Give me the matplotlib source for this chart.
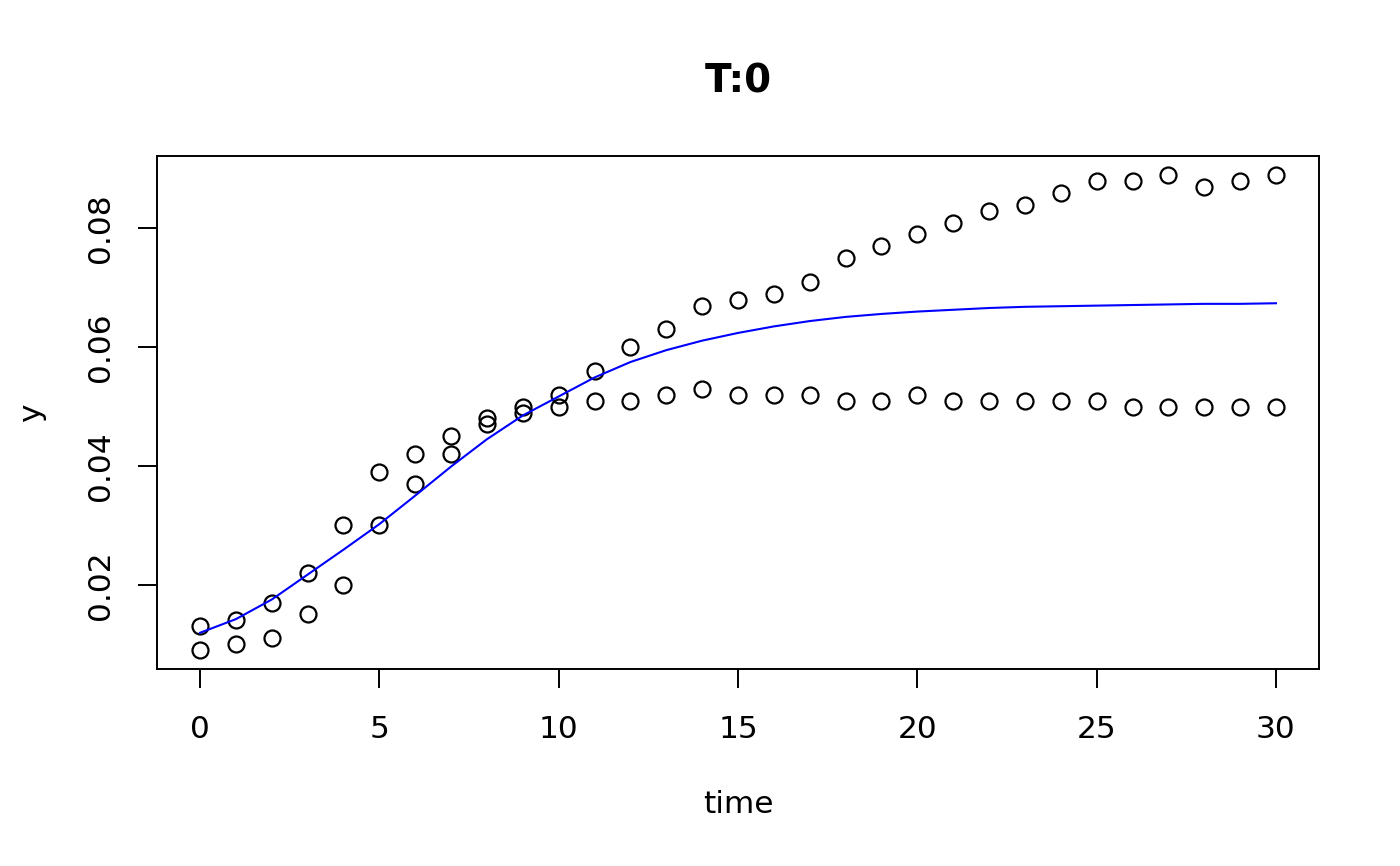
import matplotlib
matplotlib.use("Agg")
import matplotlib.pyplot as plt

time = list(range(31))
y_upper = [0.013, 0.014, 0.017, 0.022, 0.030, 0.039, 0.042, 0.045, 0.048, 0.050,
           0.052, 0.056, 0.060, 0.063, 0.067, 0.068, 0.069, 0.071, 0.075, 0.077,
           0.079, 0.081, 0.083, 0.084, 0.086, 0.088, 0.088, 0.089, 0.087, 0.088,
           0.089]
y_lower = [0.009, 0.010, 0.011, 0.015, 0.020, 0.030, 0.037, 0.042, 0.047, 0.049,
           0.050, 0.051, 0.051, 0.052, 0.053, 0.052, 0.052, 0.052, 0.051, 0.051,
           0.052, 0.051, 0.051, 0.051, 0.051, 0.051, 0.050, 0.050, 0.050, 0.050,
           0.050]

# fitted curve (blue), read at integer times
fit_t = list(range(31))
fit_y = [0.0119, 0.0142, 0.0175, 0.0217, 0.0259, 0.0302, 0.0350, 0.0399, 0.0445, 0.0485,
         0.0517, 0.0549, 0.0575, 0.0595, 0.0611, 0.0624, 0.0635, 0.0644, 0.0651, 0.0656,
         0.0660, 0.0663, 0.0666, 0.0668, 0.0669, 0.0670, 0.0671, 0.0672, 0.0673, 0.0673,
         0.0674]

xticks = [0, 5, 10, 15, 20, 25, 30]
yticks = [0.02, 0.04, 0.06, 0.08]
ytick_labels = ["0.02", "0.04", "0.06", "0.08"]

plt.rcParams["font.family"] = ["DejaVu Sans"]

fig = plt.figure(figsize=(14, 8.66), dpi=100)
ax = fig.add_axes([157 / 1400, 1 - 669 / 866, (1319 - 157) / 1400, (669 - 156) / 866])

ax.plot(time, y_upper, "o", ms=11.5, mfc="none", mec="black", mew=1.6)
ax.plot(time, y_lower, "o", ms=11.5, mfc="none", mec="black", mew=1.6)
ax.plot(fit_t, fit_y, color="blue", lw=1.5)

ax.set_xlim(-1.2, 31.2)
ax.set_ylim(0.0058, 0.0922)
ax.set_xticks(xticks)
ax.set_xticklabels([str(v) for v in xticks])
ax.set_yticks(yticks)
ax.set_yticklabels(ytick_labels, rotation=90, va="center")

for s in ax.spines.values():
    s.set_linewidth(1.4)
ax.tick_params(axis="both", length=14, width=1.4, labelsize=22.5, color="black")
ax.tick_params(axis="x", pad=19)
ax.tick_params(axis="y", pad=16)

ax.set_xlabel("time", fontsize=22.5, labelpad=33)
ax.set_ylabel("y", fontsize=22.5, labelpad=29)
ax.set_title("T:0", fontsize=28, fontweight="bold", pad=46)

fig.savefig("out.png", dpi=100)
